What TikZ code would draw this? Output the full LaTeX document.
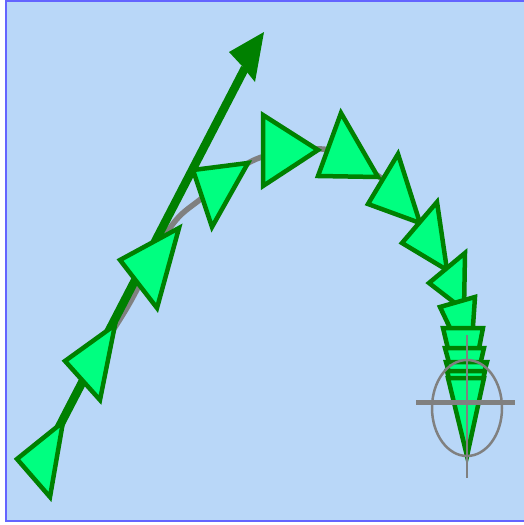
\documentclass[tikz,border=0pt]{standalone}
\definecolor{bgblue}{RGB}{185,215,248}
\definecolor{framecol}{RGB}{100,100,255}
\definecolor{trifill}{RGB}{0,255,128}
\definecolor{dkgreen}{RGB}{0,128,0}
\definecolor{gry}{RGB}{128,128,128}
\begin{document}
\begin{tikzpicture}[x=1pt,y=-1pt,
  tri/.style={fill=trifill, draw=dkgreen, line width=4.5pt, line join=miter},
  guide/.style={draw=gry, line width=5.5pt},
  targetline/.style={draw=gry, line width=2.5pt}]
\useasboundingbox (0,0) rectangle (524,525);
\fill[bgblue] (6,1) rectangle (532,521);
\draw[framecol, line width=2.5pt] (532,1) -- (6,1) -- (6,521) -- (532,521);

% gray guide curve
\draw[guide] plot[smooth, tension=0.55] coordinates {(33,477) (82,380) (128,306) (170,228) (202,198) (250,162) (290,151) (330,150) (362,166) (390,186) (425,232) (450,280) (462,330) (467,400) (467,455)};

% thick green straight arrow
\coordinate (ls) at (43,458);
\coordinate (le) at (245,68);
\draw[dkgreen, line width=8.5pt] (ls) -- (le);
\fill[dkgreen] (264,32) -- (229,52) -- (242,66) -- (255,82) -- cycle;

% triangles along the curve
\draw[tri] (17,459) -- (63,422) -- (50,497) -- cycle;
\draw[tri] (65,361) -- (115,325) -- (100,400) -- cycle;
\draw[tri] (120,260) -- (179,228) -- (157,308) -- cycle;
\draw[tri] (193,170) -- (248,163) -- (212,227) -- cycle;
\draw[tri] (263,115) -- (318,150) -- (263,186) -- cycle;
\draw[tri] (341,113) -- (378,177) -- (318,176) -- cycle;
\draw[tri] (398,154) -- (420,223) -- (368,204) -- cycle;
\draw[tri] (437,202) -- (447,270) -- (402,243) -- cycle;
\draw[tri] (465,253) -- (464,310) -- (429,283) -- cycle;
\draw[tri] (440,307) -- (475,297) -- (470,370) -- cycle;
\draw[tri] (443,328) -- (483,328) -- (465,420) -- cycle;
\draw[tri] (445,348) -- (484,348) -- (466,425) -- cycle;
\draw[tri] (446,362) -- (487,362) -- (467,435) -- cycle;
\draw[tri] (447,371) -- (485,371) -- (467,445) -- cycle;
\draw[tri] (448,378) -- (484,378) -- (467,456) -- cycle;

% target marker
\draw[targetline] (467,408) ellipse [x radius=35, y radius=48];
\draw[targetline] (467,335) -- (467,478);
\draw[gry, line width=5pt] (416,402) -- (515,402);
\end{tikzpicture}
\end{document}
